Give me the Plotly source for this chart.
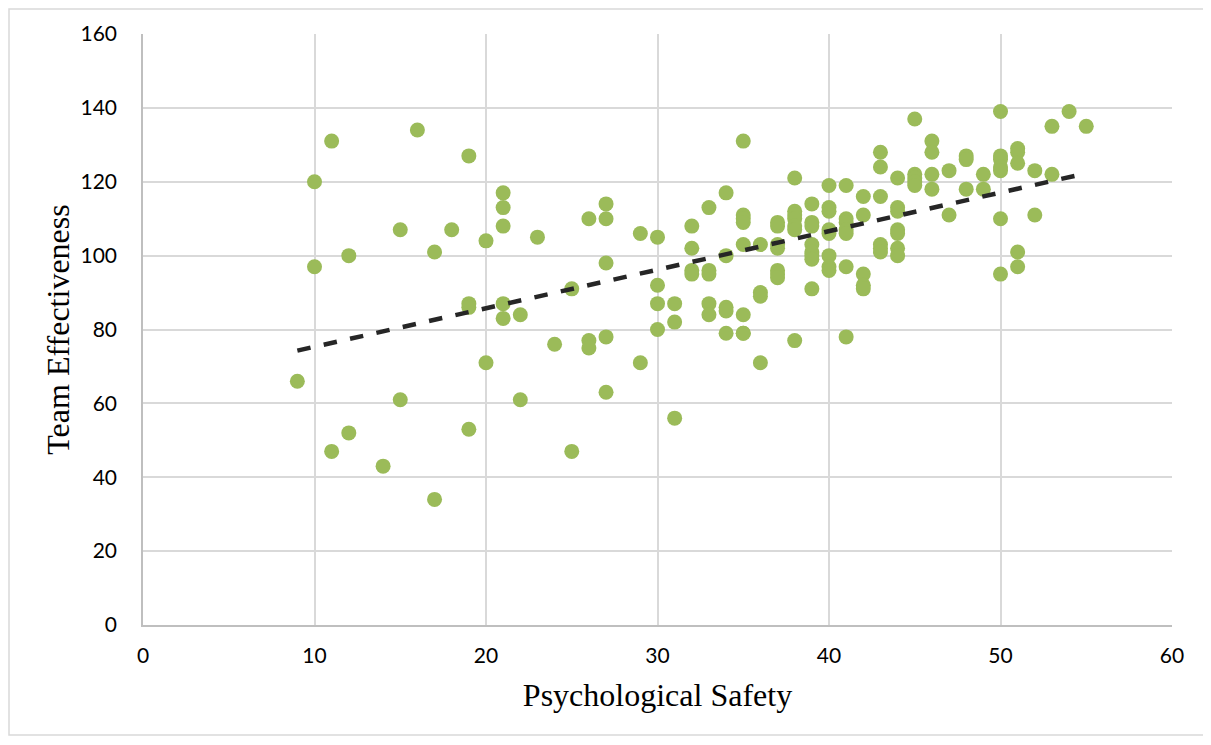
import numpy as np
import plotly.graph_objects as go

# Data (x = Psychological Safety, y = Team Effectiveness)
x_vals = [
    9, 10, 10, 11, 11, 12, 12, 14, 15, 15, 16, 17, 17, 18,
    19, 19, 19, 19, 20, 20, 21, 21, 21, 21, 21, 22, 22, 23, 24, 25, 25,
    26, 26, 26, 27, 27, 27, 27, 27, 29, 29, 30, 30, 30, 30, 31, 31, 31,
    32, 32, 32, 32, 33, 33, 33, 33, 33, 34, 34, 34, 34, 34,
    35, 35, 35, 35, 35, 35, 35, 35, 36, 36, 36, 36,
    37, 37, 37, 37, 37, 37, 37, 38, 38, 38, 38, 38, 38, 38,
    39, 39, 39, 39, 39, 39, 39, 39, 40, 40, 40, 40, 40, 40, 40, 40,
    41, 41, 41, 41, 41, 41, 41, 42, 42, 42, 42, 42,
    43, 43, 43, 43, 43, 43, 44, 44, 44, 44, 44, 44, 44,
    45, 45, 45, 45, 45, 46, 46, 46, 46, 47, 47, 48, 48, 48, 49, 49,
    50, 50, 50, 50, 50, 50, 50, 51, 51, 51, 51, 51, 52, 52, 53, 53, 54, 55,
]
y_vals = [
    66, 120, 97, 131, 47, 100, 52, 43, 107, 61, 134, 101, 34, 107,
    127, 87, 86, 53, 104, 71, 117, 113, 108, 87, 83, 84, 61, 105, 76, 91, 47,
    110, 77, 75, 114, 110, 98, 78, 63, 106, 71, 105, 92, 87, 80, 87, 82, 56,
    108, 102, 96, 95, 113, 96, 95, 87, 84, 117, 100, 86, 79, 85,
    131, 111, 110, 109, 103, 84, 79, 79, 103, 90, 89, 71,
    109, 108, 103, 102, 96, 95, 94, 121, 112, 111, 110, 108, 107, 77,
    114, 109, 108, 103, 101, 100, 99, 91, 119, 113, 112, 107, 106, 100, 97, 96,
    119, 110, 109, 107, 106, 97, 78, 116, 111, 95, 92, 91,
    128, 124, 116, 103, 102, 101, 121, 113, 112, 107, 106, 102, 100,
    137, 122, 121, 120, 119, 131, 128, 122, 118, 123, 111, 127, 126, 118, 122, 118,
    139, 127, 126, 124, 123, 110, 95, 129, 128, 125, 101, 97, 123, 111, 135, 122, 139, 135,
]
x_ticks = [0, 10, 20, 30, 40, 50, 60]
y_ticks = [0, 20, 40, 60, 80, 100, 120, 140, 160]
x_title = "Psychological Safety"
y_title = "Team Effectiveness"

n = min(len(x_vals), len(y_vals))
xa = np.array(x_vals[:n], dtype=float)
ya = np.array(y_vals[:n], dtype=float)
slope, intercept = np.polyfit(xa, ya, 1)
trend_x = [xa.min(), xa.max()]
trend_y = [slope * v + intercept for v in trend_x]

fig = go.Figure()
fig.add_trace(go.Scatter(
    x=xa, y=ya, mode="markers",
    marker=dict(color="#9BBB59", size=15, line=dict(width=0)),
    showlegend=False, hoverinfo="x+y",
))
fig.add_trace(go.Scatter(
    x=trend_x, y=trend_y, mode="lines",
    line=dict(color="#262626", width=4.5, dash="dash"),
    showlegend=False, hoverinfo="skip",
))

tick_font = dict(family="Lato, Carlito, Liberation Sans, sans-serif", size=21, color="#000000")
title_font = dict(family="Liberation Serif, Times New Roman, serif", size=32, color="#000000")

# figure sits 8px inside the page (default body margin)
W, H = 1203, 729
L, T, R, B = 135, 26, 39, 112
pw, ph = W - L - R, H - T - B

fig.update_layout(
    width=W, height=H,
    margin=dict(l=L, r=R, t=T, b=B),
    paper_bgcolor="white", plot_bgcolor="white",
    xaxis=dict(
        range=[0, 60], tickvals=x_ticks, showgrid=True, gridcolor="#D9D9D9", gridwidth=1.5,
        zeroline=False, showline=True, linecolor="#BFBFBF", linewidth=1.5,
        ticks="outside", ticklen=11, tickcolor="rgba(0,0,0,0)", tickfont=tick_font,
        title=dict(text=x_title, font=title_font, standoff=18),
    ),
    yaxis=dict(
        range=[0, 160], tickvals=y_ticks, showgrid=True, gridcolor="#D9D9D9", gridwidth=1.5,
        zeroline=False, showline=True, linecolor="#BFBFBF", linewidth=1.5,
        ticks="outside", ticklen=20, tickcolor="rgba(0,0,0,0)", tickfont=tick_font,
        title=dict(text=y_title, font=title_font, standoff=1),
    ),
    shapes=[dict(
        type="rect", xref="paper", yref="paper",
        x0=(1 - L) / pw, x1=(W - 2 - L) / pw,
        y0=(ph + T - (H - 2)) / ph, y1=(ph + T - 1) / ph,
        line=dict(color="#D9D9D9", width=1.5), fillcolor="rgba(0,0,0,0)", layer="below",
    )],
)

fig.write_html("out.html")
